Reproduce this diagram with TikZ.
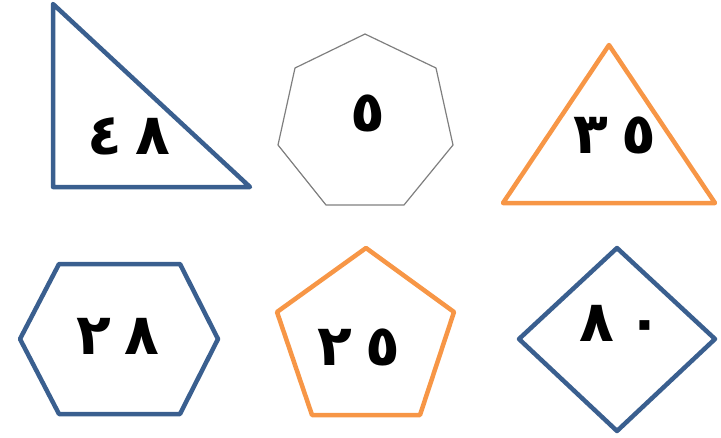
\documentclass[tikz,border=0pt]{standalone}
\usepackage{fontspec}
\newfontfamily\arabicfont[Script=Arabic]{DejaVu Sans}
\TeXXeTstate=1
\definecolor{figblue}{HTML}{3A5F8F}
\definecolor{figorange}{HTML}{F79646}
\definecolor{figgray}{HTML}{7F7F7F}
\tikzset{
  bluefig/.style={draw=figblue,line width=4.5pt,line join=round},
  orangefig/.style={draw=figorange,line width=4.5pt,line join=round},
  grayfig/.style={draw=figgray,line width=1.2pt,line join=round},
  numlabel/.style={font=\arabicfont\bfseries\fontsize{57}{57}\selectfont,inner sep=0pt}
}

\begin{document}
\begin{tikzpicture}[x=1pt,y=-1pt]
  \useasboundingbox (0,0) rectangle (721,437);
  % top row
  \draw[bluefig] (53,4) -- (53,187) -- (250,187) -- cycle;
  \draw[grayfig] (365,34) -- (436,68) -- (453,145) -- (404,205) -- (326,205) -- (278,145) -- (295,68) -- cycle;
  \draw[orangefig] (609,45) -- (715,203) -- (503,203) -- cycle;
  % bottom row
  \draw[bluefig] (59,264) -- (180,264) -- (218,339) -- (180,414) -- (59,414) -- (20,339) -- cycle;
  \draw[orangefig] (366,248) -- (454,312) -- (420,415) -- (312,415) -- (277,312) -- cycle;
  \draw[bluefig] (617,248) -- (715,339) -- (617,431) -- (519,339) -- cycle;
  % numbers
  \node[numlabel] (tri) at (129,136) {٤\hspace{14pt}٨};
  \node[numlabel] (hepta) at (368,113) {٥};
  \node[numlabel] (eqtri) at (615,135) {٣\hspace{14pt}٥};
  \node[numlabel] (hexa) at (118,336) {٢\hspace{14pt}٨};
  \node[numlabel] (penta) at (359,347) {٢\hspace{14pt}٥};
  \node[numlabel] (rhomb) at (621,323) {٨\hspace{14pt}٠};
\end{tikzpicture}
\end{document}
